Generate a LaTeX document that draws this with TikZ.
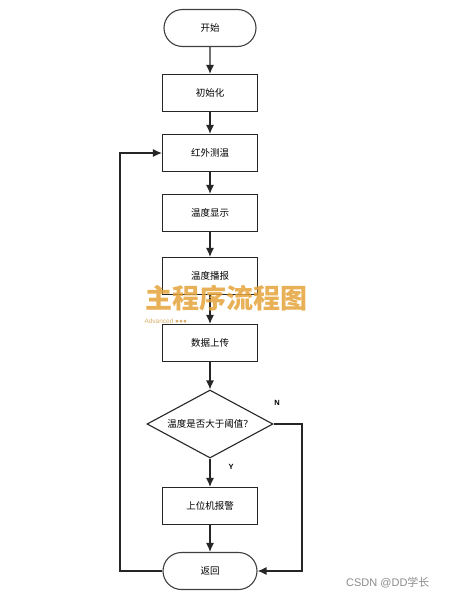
\documentclass[tikz,border=0pt]{standalone}
\usepackage{fontspec}
\setmainfont{Liberation Sans}
\newfontfamily\cjk{Noto Sans CJK SC}
\newfontfamily\cjkbold{Noto Sans CJK SC Black}
\usetikzlibrary{shapes.geometric,shapes.misc,arrows.meta}
\definecolor{wmorange}{HTML}{E6A43A}
\begin{document}
\begin{tikzpicture}[x=1pt,y=-1pt,
  box/.style={draw=black!85,line width=1.1pt,minimum width=95pt,minimum height=37pt,font=\cjk\fontsize{9.5}{11}\selectfont,inner sep=0pt},
  term/.style={draw=black!75,line width=1.1pt,rounded rectangle,minimum width=92pt,minimum height=37pt,font=\cjk\fontsize{9.5}{11}\selectfont,inner sep=0pt},
  dec/.style={draw=black!85,line width=1.1pt,diamond,aspect=1.85,minimum width=126pt,minimum height=68pt,font=\cjk\fontsize{9.5}{11}\selectfont,inner sep=0pt},
  arr/.style={draw=black!85,line width=1.2pt,-{Latex[length=9pt,width=8pt]}},
  lbl/.style={font=\fontsize{7.5}{8}\selectfont\bfseries}
]
\useasboundingbox (0,0) rectangle (450,600);
\fill[white] (0,0) rectangle (450,600);
\node[term] (start) at (210,28) {开始};
\node[box] (init) at (210,93) {初始化};
\node[box] (meas) at (210,153) {红外测温};
\node[box] (disp) at (210,213) {温度显示};
\node[box] (spk) at (210,276) {温度播报};
\node[box] (up) at (210,343) {数据上传};
\node[dec] (cond) at (210,424) {温度是否大于阈值？};
\node[box] (alarm) at (210,506) {上位机报警};
\node[term,minimum width=94pt] (ret) at (210,571) {返回};
\coordinate (lb) at (120,571);
\coordinate (lt) at (120,153);
\coordinate (rt) at (302,424);
\coordinate (rb) at (302,571);
\draw[arr] (start) -- (init);
\draw[arr] (init) -- (meas);
\draw[arr] (meas) -- (disp);
\draw[arr] (disp) -- (spk);
\draw[arr] (spk) -- (up);
\draw[arr] (up) -- (cond);
\draw[arr] (cond) -- (alarm);
\draw[arr] (alarm) -- (ret);
\draw[arr] (ret.west) -- (lb) -- (lt) -- (meas.west);
\draw[arr] (cond.east) -- (rt) -- (rb) -- (ret.east);
\node[lbl] (nl) at (277,403) {N};
\node[lbl] (yl) at (231,467) {Y};
\node[text=wmorange,opacity=0.85,font=\cjkbold\fontsize{27}{29}\selectfont] (wm) at (226,298) {主程序流程图};
\node[text=wmorange!80!gray,opacity=0.8,font=\fontsize{6.5}{7}\selectfont,anchor=west] (adv) at (141,321) {Advanced ●●●};
\node[text=black!45,font=\fontsize{11}{13}\selectfont,anchor=east] (csdn) at (433,583) {CSDN @DD\cjk 学长};
\end{tikzpicture}
\end{document}
